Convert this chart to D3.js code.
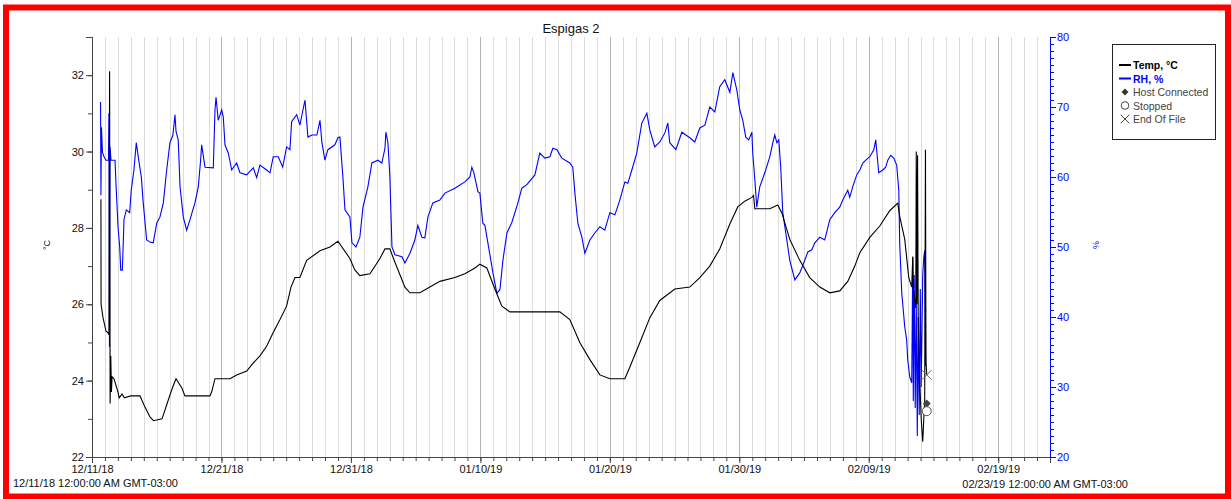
<!DOCTYPE html>
<html lang="en">
<head>
  <meta charset="UTF-8" />
  <title>Espigas 2</title>
  <style>
    body {
      margin: 0;
      background-color: #fff;
      font-family: "Liberation Sans", Arial, sans-serif;
    }

    svg {
      display: block;
    }

    .axis text {
      font-size: 11px;
      font-family: "Liberation Sans", Arial, sans-serif;
    }

    .grid line {
      shape-rendering: crispEdges;
    }
  </style>
</head>
<body>
  <svg width="1231" height="499"></svg>

  <script src="https://d3js.org/d3.v7.min.js"></script>
  <script>
    const width = 1231;
    const height = 499;

    // days since 12/11/18 00:00, temperature in °C
    const temperature = [
      [0.69, 28.75], [0.70, 26.0], [0.85, 25.65], [1.08, 25.3], [1.24, 25.25], [1.31, 25.2],
      [1.36, 32.1], [1.40, 23.4], [1.45, 24.65], [1.50, 23.7], [1.55, 24.1], [1.70, 24.05],
      [2.01, 23.7], [2.10, 23.55], [2.32, 23.65], [2.5, 23.55], [3.0, 23.6], [3.71, 23.6],
      [4.1, 23.3], [4.48, 23.05], [4.75, 22.95], [5.41, 23.0], [5.9, 23.5], [6.2, 23.8],
      [6.49, 24.05], [6.95, 23.8], [7.18, 23.6], [9.11, 23.6], [9.24, 23.7], [9.50, 24.05],
      [10.66, 24.05], [11.17, 24.15], [11.95, 24.25], [12.43, 24.45], [12.97, 24.65],
      [13.49, 24.9], [13.98, 25.25], [14.52, 25.6], [15.03, 25.95], [15.37, 26.45],
      [15.68, 26.7], [16.06, 26.7], [16.58, 27.15], [17.61, 27.4], [18.38, 27.5],
      [19.0, 27.65], [19.92, 27.2], [20.3, 26.9], [20.69, 26.75], [21.47, 26.8],
      [22.24, 27.2], [22.63, 27.45], [23.01, 27.45], [23.4, 27.1], [24.17, 26.45],
      [24.56, 26.3], [25.33, 26.3], [26.1, 26.45], [26.87, 26.6], [28.03, 26.7],
      [28.8, 26.8], [29.58, 26.95], [29.96, 27.05], [30.5, 26.95], [31.12, 26.4],
      [31.66, 25.95], [32.28, 25.8], [36.14, 25.8], [36.91, 25.6], [37.68, 25.0],
      [38.46, 24.55], [39.23, 24.15], [40.0, 24.05], [41.16, 24.05], [41.54, 24.35],
      [42.32, 25.0], [43.09, 25.65], [43.86, 26.1], [45.02, 26.4], [46.18, 26.45],
      [46.95, 26.7], [47.72, 27.0], [48.49, 27.45], [49.27, 28.1], [49.88, 28.55],
      [50.42, 28.7], [50.97, 28.8], [51.1, 28.85], [51.2, 28.5], [52.36, 28.5],
      [52.97, 28.6], [53.28, 28.4], [53.9, 27.7], [54.67, 27.15], [55.44, 26.7],
      [56.22, 26.45], [56.99, 26.3], [57.76, 26.35], [58.38, 26.6], [58.92, 27.0],
      [59.31, 27.35], [60.08, 27.75], [60.85, 28.05], [61.62, 28.45], [62.24, 28.65],
      [62.39, 28.3], [62.78, 27.7], [63.09, 26.7], [63.32, 26.45], [63.40, 27.25],
      [63.44, 26.4], [63.63, 25.9], [63.67, 30.0], [63.72, 26.0], [63.77, 29.9],
      [63.82, 25.6], [63.94, 24.0], [64.05, 23.0], [64.17, 22.4], [64.25, 23.0],
      [64.32, 23.5], [64.38, 30.05], [64.42, 24.5], [64.48, 24.15]
    ];

    // days since 12/11/18 00:00, relative humidity in %
    const humidity = [
      [0.66, 70.7], [0.69, 57.4], [0.73, 67.1], [0.81, 63.5], [0.93, 62.9], [1.08, 62.4],
      [1.27, 62.4], [1.31, 69.1], [1.35, 35.7], [1.39, 64.3], [1.47, 62.4], [1.78, 62.4],
      [1.85, 59.1], [2.01, 52.9], [2.14, 50.0], [2.22, 46.7], [2.34, 46.7], [2.39, 49.1],
      [2.47, 53.9], [2.65, 55.3], [2.91, 54.9], [3.03, 58.1], [3.24, 61.0], [3.42, 64.9],
      [3.61, 62.4], [3.81, 60.0], [3.94, 56.7], [4.22, 51.0], [4.48, 50.7], [4.73, 50.6],
      [5.00, 53.4], [5.25, 54.3], [5.51, 56.3], [5.77, 61.0], [6.02, 64.9], [6.25, 66.0],
      [6.41, 68.9], [6.49, 66.5], [6.66, 65.3], [6.80, 58.6], [7.05, 54.3], [7.31, 52.4],
      [7.57, 53.9], [7.95, 56.3], [8.21, 58.6], [8.39, 62.4], [8.47, 64.6], [8.73, 61.4],
      [9.37, 61.3], [9.50, 69.6], [9.58, 71.4], [9.75, 68.1], [10.02, 69.6], [10.14, 68.6],
      [10.27, 64.6], [10.53, 63.4], [10.79, 61.0], [11.17, 62.0], [11.43, 60.6],
      [11.95, 60.3], [12.46, 61.3], [12.72, 59.9], [12.97, 61.7], [13.49, 61.0],
      [13.75, 60.6], [14.00, 62.9], [14.39, 62.9], [14.73, 61.4], [15.03, 64.3],
      [15.29, 63.9], [15.42, 67.9], [15.81, 68.9], [16.06, 67.4], [16.45, 71.0],
      [16.68, 65.7], [16.99, 66.0], [17.37, 66.0], [17.61, 68.1], [17.76, 64.9],
      [17.99, 62.4], [18.22, 63.9], [18.76, 64.6], [19.00, 65.6], [19.15, 65.7],
      [19.38, 60.0], [19.54, 55.3], [19.92, 54.3], [20.08, 50.6], [20.39, 50.0],
      [20.69, 51.4], [20.93, 55.7], [21.31, 58.6], [21.62, 62.0], [22.08, 62.4],
      [22.39, 62.0], [22.63, 64.1], [22.70, 66.4], [22.86, 64.9], [23.01, 60.0],
      [23.17, 50.0], [23.40, 48.9], [23.94, 48.6], [24.17, 47.7], [24.56, 49.1],
      [24.94, 51.0], [25.17, 53.1], [25.48, 51.4], [25.71, 51.3], [25.95, 54.3],
      [26.33, 56.3], [26.87, 56.7], [27.26, 57.7], [28.03, 58.4], [28.80, 59.3],
      [29.19, 60.0], [29.34, 61.4], [29.50, 60.6], [29.81, 57.9], [29.96, 57.7],
      [30.19, 53.4], [30.35, 53.1], [30.58, 50.6], [30.97, 46.3], [31.27, 43.4],
      [31.51, 43.9], [31.74, 48.1], [32.05, 52.0], [32.43, 53.5], [32.90, 56.3],
      [33.20, 58.4], [33.59, 58.9], [34.21, 60.3], [34.59, 63.4], [34.98, 62.7],
      [35.37, 62.9], [35.60, 64.1], [35.91, 63.9], [36.29, 62.7], [36.91, 62.0],
      [37.14, 61.4], [37.30, 57.7], [37.53, 53.4], [37.84, 51.4], [38.07, 49.1],
      [38.46, 51.0], [38.84, 52.0], [39.23, 52.9], [39.61, 52.4], [40.00, 54.9],
      [40.39, 54.6], [40.77, 56.7], [41.16, 59.3], [41.39, 59.1], [41.70, 61.0],
      [42.08, 63.4], [42.47, 67.7], [42.86, 69.1], [43.09, 66.7], [43.47, 64.3],
      [43.86, 65.0], [44.25, 66.3], [44.48, 67.7], [44.63, 64.9], [45.10, 63.9],
      [45.56, 66.4], [46.18, 65.6], [46.56, 65.0], [46.95, 67.0], [47.34, 67.4],
      [47.72, 70.0], [48.11, 69.3], [48.49, 72.9], [48.88, 73.9], [49.27, 72.1],
      [49.50, 74.9], [49.81, 72.4], [50.04, 69.6], [50.27, 68.1], [50.50, 65.7],
      [50.73, 65.3], [50.97, 66.4], [51.04, 63.4], [51.20, 59.6], [51.35, 55.7],
      [51.58, 58.6], [51.97, 60.6], [52.36, 62.9], [52.59, 64.9], [52.74, 66.0],
      [52.90, 64.9], [53.05, 65.3], [53.20, 61.4], [53.36, 54.9], [53.67, 51.0],
      [53.90, 48.1], [54.29, 45.3], [54.67, 46.3], [55.06, 48.1], [55.29, 49.3],
      [55.60, 49.6], [55.83, 50.6], [56.22, 51.4], [56.60, 51.0], [56.99, 53.9],
      [57.37, 54.9], [57.76, 55.7], [57.99, 56.7], [58.38, 58.1], [58.53, 57.1],
      [58.76, 58.6], [59.07, 60.3], [59.31, 61.0], [59.54, 62.0], [59.77, 62.4],
      [60.08, 62.9], [60.39, 63.9], [60.54, 65.3], [60.77, 60.6], [61.08, 61.0],
      [61.31, 61.4], [61.47, 62.4], [61.70, 63.1], [61.93, 62.7], [62.16, 61.7],
      [62.32, 58.1], [62.39, 50.6], [62.55, 43.4], [62.78, 38.6], [62.93, 36.7],
      [63.01, 33.9], [63.17, 31.4], [63.32, 30.6], [63.40, 48.5], [63.44, 28.0],
      [63.51, 46.0], [63.59, 27.0], [63.67, 42.0], [63.75, 23.0], [63.82, 40.0],
      [63.90, 26.0], [63.98, 44.0], [64.05, 30.0], [64.17, 46.0], [64.25, 48.5],
      [64.32, 49.5], [64.40, 33.0]
    ];

    // logger events: day, temperature position
    const events = [
      { name: "End Of File", day: 64.48, value: 24.15 },
      { name: "Host Connected", day: 64.48, value: 23.4 },
      { name: "Stopped", day: 64.48, value: 23.2 }
    ];

    const legendItems = ["Temp, °C", "RH, %", "Host Connected", "Stopped", "End Of File"];
    const tempTicks = [22, 24, 26, 28, 30, 32];
    const rhTicks = [20, 30, 40, 50, 60, 70, 80];

    const start = new Date(2018, 11, 11);
    const end = new Date(2019, 1, 23);
    const dayToDate = d => new Date(start.getTime() + d * 864e5);

    const plot = { left: 92, right: 1050, top: 37, bottom: 457 };

    const x = d3.scaleTime().domain([start, end]).range([plot.left, plot.right]);
    const yT = d3.scaleLinear().domain([22, 33]).range([plot.bottom, plot.top]);
    const yH = d3.scaleLinear().domain([20, 80]).range([plot.bottom, plot.top]);

    const svg = d3.select("svg");

    // red frame
    svg.append("rect")
      .attr("x", 6).attr("y", 7.5)
      .attr("width", 1222).attr("height", 489)
      .attr("fill", "none")
      .attr("stroke", "#ff0000")
      .attr("stroke-width", 6);

    svg.append("text")
      .attr("x", (plot.left + plot.right) / 2)
      .attr("y", 33)
      .attr("text-anchor", "middle")
      .attr("font-size", 13)
      .attr("fill", "#111")
      .text("Espigas 2");

    // daily vertical grid
    const days = d3.timeDay.range(d3.timeDay.offset(start, 1), end);
    const majorDays = d3.range(0, 74, 10).map(d => d3.timeDay.offset(start, d));
    const isMajor = d => majorDays.some(m => +m === +d);

    svg.append("g")
      .attr("class", "grid")
      .selectAll("line")
      .data(days)
      .join("line")
      .attr("x1", d => Math.round(x(d)) + 0.5)
      .attr("x2", d => Math.round(x(d)) + 0.5)
      .attr("y1", plot.top)
      .attr("y2", plot.bottom)
      .attr("stroke", d => isMajor(d) ? "#b4b4b4" : "#dcdcdc")
      .attr("stroke-width", 1);

    // bottom axis: minor daily ticks, then labelled major ticks
    svg.append("g")
      .attr("transform", `translate(0,${plot.bottom})`)
      .call(d3.axisBottom(x).tickValues(days).tickSize(4).tickFormat(""))
      .call(g => g.selectAll("line,path").attr("stroke", "#444"));

    svg.append("g")
      .attr("class", "axis")
      .attr("transform", `translate(0,${plot.bottom})`)
      .call(d3.axisBottom(x).tickValues(majorDays).tickSize(6).tickPadding(2)
        .tickFormat(d3.timeFormat("%m/%d/%y")))
      .call(g => g.select(".domain").attr("stroke", "#444"))
      .call(g => g.selectAll("line").attr("stroke", "#444"))
      .call(g => g.selectAll("text").attr("fill", "#111"));

    // left axis (temperature)
    svg.append("g")
      .attr("transform", `translate(${plot.left},0)`)
      .call(d3.axisLeft(yT).ticks(11).tickSize(4).tickFormat(""))
      .call(g => g.selectAll("line,path").attr("stroke", "#444"));

    svg.append("g")
      .attr("class", "axis")
      .attr("transform", `translate(${plot.left},0)`)
      .call(d3.axisLeft(yT).tickValues(tempTicks).tickSize(6).tickPadding(2))
      .call(g => g.select(".domain").attr("stroke", "#444"))
      .call(g => g.selectAll("line").attr("stroke", "#444"))
      .call(g => g.selectAll("text").attr("fill", "#111"));

    // right axis (humidity)
    svg.append("g")
      .attr("transform", `translate(${plot.right},0)`)
      .call(d3.axisRight(yH).ticks(60).tickSize(4).tickFormat(""))
      .call(g => g.selectAll("line,path").attr("stroke", "#0000ff"));

    svg.append("g")
      .attr("class", "axis")
      .attr("transform", `translate(${plot.right},0)`)
      .call(d3.axisRight(yH).tickValues(rhTicks).tickSize(6).tickPadding(1))
      .call(g => g.select(".domain").attr("stroke", "#0000ff"))
      .call(g => g.selectAll("line").attr("stroke", "#0000ff"))
      .call(g => g.selectAll("text").attr("fill", "#0000ff"));

    svg.append("text")
      .attr("transform", "translate(50,245) rotate(-90)")
      .attr("text-anchor", "middle")
      .attr("font-size", 9)
      .attr("fill", "#111")
      .text("°C");

    svg.append("text")
      .attr("transform", "translate(1099,245) rotate(-90)")
      .attr("text-anchor", "middle")
      .attr("font-size", 9)
      .attr("fill", "#0000ff")
      .text("%");

    // start / end date stamps
    svg.append("text")
      .attr("x", 13).attr("y", 487)
      .attr("font-size", 11).attr("fill", "#111")
      .text("12/11/18 12:00:00 AM GMT-03:00");

    svg.append("text")
      .attr("x", 1128).attr("y", 488)
      .attr("text-anchor", "end")
      .attr("font-size", 11).attr("fill", "#111")
      .text("02/23/19 12:00:00 AM GMT-03:00");

    // series
    const rhLine = d3.line()
      .x(d => x(dayToDate(d[0])))
      .y(d => yH(d[1]));

    const tLine = d3.line()
      .x(d => x(dayToDate(d[0])))
      .y(d => yT(d[1]));

    svg.append("path")
      .datum(humidity)
      .attr("fill", "none")
      .attr("stroke", "#0000ff")
      .attr("stroke-width", 1.1)
      .attr("d", rhLine);

    svg.append("path")
      .datum(temperature)
      .attr("fill", "none")
      .attr("stroke", "#000")
      .attr("stroke-width", 1.1)
      .attr("d", tLine);

    // event markers
    const ev = svg.append("g");
    events.forEach(e => {
      const cx = x(dayToDate(e.day));
      const cy = yT(e.value);
      if (e.name === "Host Connected") {
        ev.append("path")
          .attr("d", d3.symbol(d3.symbolDiamond2, 40)())
          .attr("transform", `translate(${cx},${cy})`)
          .attr("fill", "#444");
      } else if (e.name === "Stopped") {
        ev.append("circle")
          .attr("cx", cx).attr("cy", cy).attr("r", 4.5)
          .attr("fill", "#fff").attr("stroke", "#555");
      } else {
        ev.append("path")
          .attr("d", d3.symbol(d3.symbolTimes, 60)())
          .attr("transform", `translate(${cx},${cy})`)
          .attr("fill", "none").attr("stroke", "#666");
      }
    });

    // legend
    const lg = svg.append("g").attr("transform", "translate(1112,44)");
    lg.append("rect")
      .attr("x", 0.5).attr("y", 0.5)
      .attr("width", 103).attr("height", 95)
      .attr("fill", "#fff").attr("stroke", "#222");

    legendItems.forEach((name, i) => {
      const yy = 21 + i * 13.5;
      const row = lg.append("g").attr("transform", `translate(0,${yy})`);
      const colour = i === 1 ? "#0000ff" : (i === 0 ? "#000" : "#444");
      if (i < 2) {
        row.append("line")
          .attr("x1", 7).attr("x2", 19).attr("y1", 0).attr("y2", 0)
          .attr("stroke", colour).attr("stroke-width", 2);
      } else if (name === "Host Connected") {
        row.append("path")
          .attr("d", d3.symbol(d3.symbolDiamond2, 30)())
          .attr("transform", "translate(13,0)")
          .attr("fill", "#333");
      } else if (name === "Stopped") {
        row.append("circle")
          .attr("cx", 13).attr("cy", 0).attr("r", 3.8)
          .attr("fill", "#fff").attr("stroke", "#444");
      } else {
        row.append("path")
          .attr("d", d3.symbol(d3.symbolTimes, 50)())
          .attr("transform", "translate(13,0)")
          .attr("fill", "none").attr("stroke", "#444");
      }
      row.append("text")
        .attr("x", 21).attr("y", 4)
        .attr("font-size", 10.5)
        .attr("font-weight", i < 2 ? "bold" : "normal")
        .attr("fill", colour)
        .text(name);
    });
  </script>
</body>
</html>
